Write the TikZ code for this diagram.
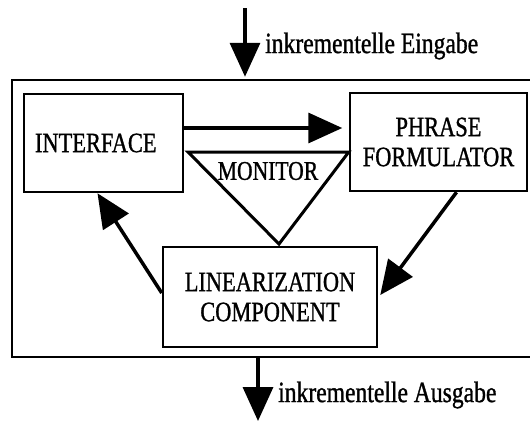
\documentclass[tikz,border=0pt]{standalone}
\usepackage{fontspec}
\setmainfont{Liberation Serif}
\newfontfamily\diagfont[FakeStretch=0.8,FakeBold=1]{Liberation Serif}
\usetikzlibrary{arrows.meta,positioning}
\tikzstyle{arrow} = [line width=3.5pt,-{Triangle[length=34pt,width=30pt]}]
\tikzset{block/.style={draw,line width=2.5pt,align=center,inner sep=0pt,font=\diagfont\fontsize{28}{30}\selectfont},io label/.style={inner sep=0pt,font=\diagfont\fontsize{29.5}{32}\selectfont}}

\begin{document}
\begin{tikzpicture}[x=1pt,y=-1pt]
    \useasboundingbox (0,0) rectangle (530,423);
    \node [draw, line width=2.5pt, inner sep=0pt, minimum width=523pt, minimum height=277pt] (frame) at (273.5,218.5) {};

    \node [block, inner xsep=11pt, text width=137pt, align=left, minimum height=98pt] (interface) at (103.5,143) {INTERFACE};
    \node [block, minimum width=177pt, minimum height=98pt] (phrase) at (438.5,142) {PHRASE\\FORMULATOR};
    \node [block, minimum width=214pt, minimum height=100pt] (linear) at (270,297) {LINEARIZATION\\COMPONENT};

    % monitor triangle
    \coordinate (monleft) at (188,152);
    \coordinate (monright) at (phrase.west |- monleft);
    \coordinate (montip) at (279,244);
    \draw [line width=3pt] (monleft) -- (monright) -- (montip) -- cycle;
    \node [font=\diagfont\fontsize{27}{30}\selectfont, inner sep=0pt] (monitor) at (268,171) {MONITOR};

    \draw [arrow, shorten >=6.5pt] ([yshift=15pt]interface.east) -- ([yshift=15pt]interface.east -| phrase.west);
    \draw [arrow] ([yshift=4pt]linear.west) -- ([xshift=-6pt]interface.south);
    \draw [arrow] ([xshift=18pt]phrase.south) -- ([xshift=2pt,yshift=2pt]linear.east);

    % input and output
    \coordinate (eingabe) at (245,8);
    \coordinate (eingabemid) at (245,46);
    \draw [arrow, shorten >=2pt] (eingabe) -- (eingabe |- frame.north);
    \node [io label, right=20pt of eingabemid] (eingabelabel) {inkrementelle Eingabe};

    \coordinate (ausgabe) at (258,421);
    \coordinate (ausgabemid) at (258,395);
    \draw [arrow] (frame.south -| ausgabe) -- (ausgabe);
    \node [io label, right=20pt of ausgabemid] (ausgabelabel) {inkrementelle Ausgabe};
\end{tikzpicture}
\end{document}
